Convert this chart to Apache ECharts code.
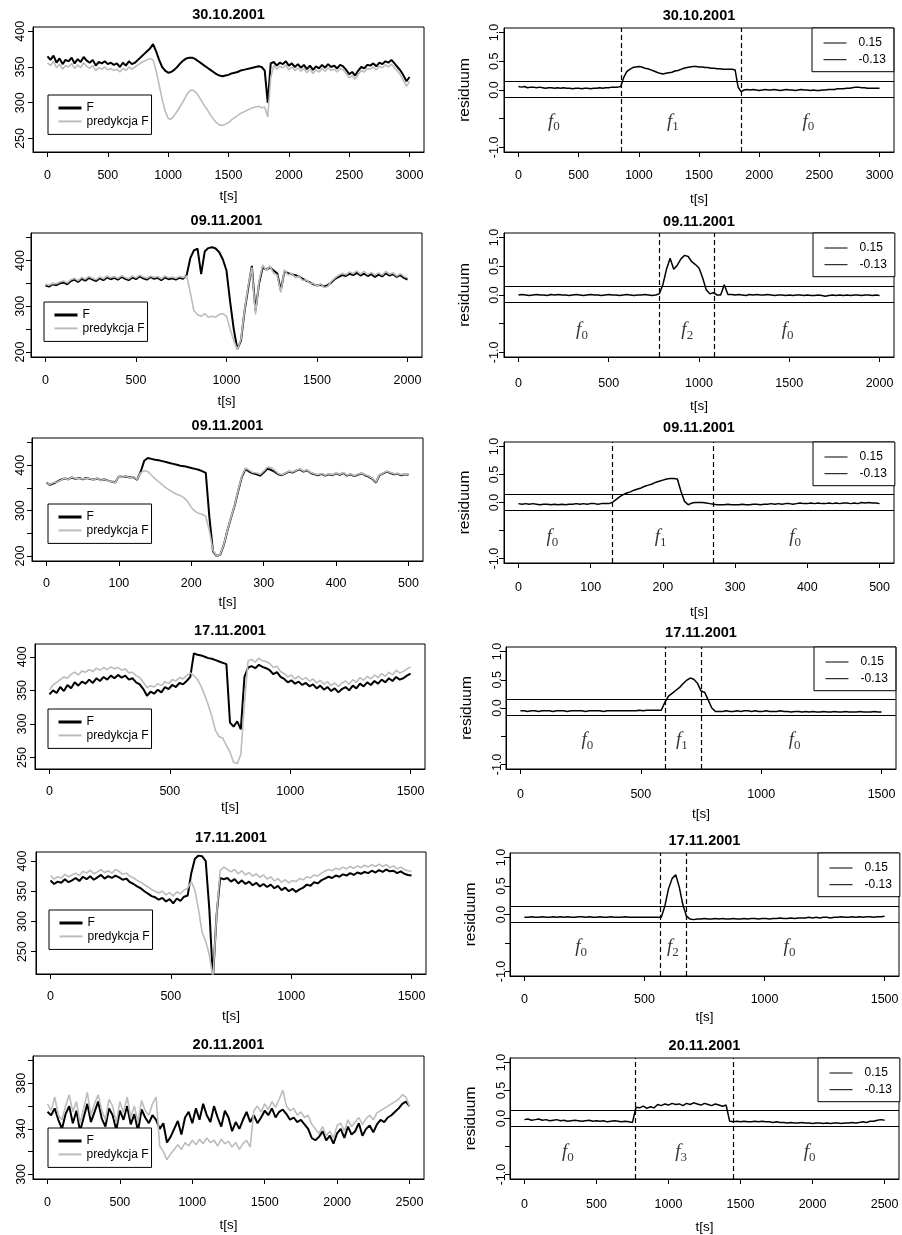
<!DOCTYPE html>
<html>
<head>
<meta charset="utf-8">
<script src="https://cdn.jsdelivr.net/npm/echarts@6/dist/echarts.min.js"></script>
<style>html,body{margin:0;padding:0;background:#fff}#c{width:902px;height:1235px}</style>
</head>
<body>
<div id="c"></div>
<script>
// ---------------- DATA ----------------
const titles = ['30.10.2001','09.11.2001','09.11.2001','17.11.2001','17.11.2001','20.11.2001'];
// sampling step (s) of the series of each row
const steps = [25, 20, 5, 15, 15, 25];

const F1 = [365,360,366,356,362,354,360,358,363,355,
361,357,364,359,356,360,352,357,355,358,
354,356,353,355,350,356,352,358,354,356,
360,364,368,372,376,382,372,360,350,345,
342,343,346,350,355,359,362,363,363,361,
358,355,352,349,346,343,340,338,337,338,
339,341,342,343,345,346,347,348,349,350,
351,350,345,300,355,357,352,356,354,358,
352,355,350,354,349,353,347,352,346,351,
348,353,349,354,350,352,348,353,351,346,
340,343,338,345,350,348,353,352,355,351,
356,354,358,356,360,355,350,345,338,330,
336];
const P1 = [356,352,358,349,354,347,352,350,355,348,
353,349,356,351,348,352,345,349,347,350,
346,348,345,347,343,348,345,350,347,350,
353,356,358,360,362,360,345,325,305,288,
278,277,282,288,295,302,310,316,318,315,
310,303,296,290,283,277,272,269,268,270,
272,276,279,282,285,287,289,291,293,294,
295,293,294,280,335,352,347,351,349,353,
346,350,345,349,344,348,342,347,341,346,
343,348,344,349,345,347,343,348,346,341,
335,338,333,340,345,343,348,347,350,346,
351,349,353,350,354,349,344,339,331,323,
330];
const R1 = [0.06,0.05,0.06,0.04,0.05,0.05,0.04,0.05,0.04,0.03,
0.04,0.04,0.03,0.04,0.03,0.04,0.03,0.03,0.02,0.03,
0.03,0.02,0.03,0.03,0.02,0.03,0.03,0.04,0.03,0.04,
0.04,0.05,0.05,0.05,0.06,0.22,0.32,0.36,0.39,0.40,
0.41,0.40,0.38,0.37,0.35,0.33,0.31,0.29,0.28,0.29,
0.30,0.31,0.33,0.34,0.36,0.38,0.39,0.40,0.41,0.41,
0.40,0.40,0.39,0.39,0.38,0.38,0.37,0.37,0.36,0.36,
0.36,0.36,0.35,0.05,-0.03,0.00,0.01,0.00,0.01,0.00,
-0.01,0.00,0.01,0.00,0.00,0.01,0.00,-0.01,0.00,0.01,
0.00,0.00,-0.01,0.00,0.01,0.00,0.00,-0.01,0.00,-0.01,
-0.01,0.00,0.00,0.01,0.01,0.01,0.02,0.02,0.02,0.03,
0.03,0.04,0.05,0.05,0.04,0.04,0.03,0.03,0.03,0.03,
0.03];

const F2 = [345,343,348,346,350,352,348,355,358,353,
360,356,362,358,355,361,357,363,359,362,
358,364,360,357,363,359,365,361,358,364,
360,362,357,363,359,361,358,362,360,368,
405,422,426,370,420,427,429,426,418,402,
378,310,250,206,225,290,340,388,290,350,
385,380,385,378,372,335,376,372,370,368,
365,360,356,352,348,345,347,343,346,352,
360,364,368,366,371,368,373,367,371,366,
370,364,369,365,372,367,370,364,368,362,
358];
const P2 = [348,346,350,349,353,355,351,358,361,356,
363,359,365,361,358,364,360,366,362,365,
361,367,363,360,366,362,368,364,361,366,
363,365,360,366,362,364,361,365,363,366,
330,290,282,278,284,276,278,276,282,284,
278,250,225,205,228,292,345,385,282,355,
390,378,388,372,368,330,380,368,372,362,
366,356,358,350,350,344,349,341,343,355,
362,368,372,369,375,371,377,370,376,369,
374,368,373,368,376,370,373,366,371,365,
362];
const R2 = [0.00,0.01,0.00,-0.01,0.00,0.01,0.00,0.00,-0.01,0.01,
0.00,0.01,0.00,0.00,-0.01,0.00,0.01,0.00,-0.01,0.00,
0.01,0.00,0.00,-0.01,0.00,0.01,0.00,0.00,-0.01,0.00,
0.01,0.00,-0.01,0.00,0.00,0.01,0.00,-0.01,0.00,0.02,
0.18,0.45,0.64,0.45,0.52,0.63,0.69,0.67,0.58,0.53,
0.47,0.30,0.09,0.02,0.04,0.00,0.00,0.18,0.01,0.01,
0.00,0.01,0.00,-0.01,0.01,0.00,0.01,0.00,0.00,0.01,
0.00,-0.01,0.00,0.00,-0.01,0.00,-0.01,0.00,0.00,-0.01,
0.00,-0.01,-0.01,0.00,-0.01,-0.02,-0.01,0.00,-0.01,0.00,
-0.01,0.00,-0.01,0.00,0.00,-0.01,0.00,0.00,-0.01,0.00,
-0.01];

const F3 = [361,357,360,364,368,371,369,373,370,372,
369,372,370,368,371,367,369,366,364,362,
376,374,375,373,374,368,385,410,416,414,
412,411,409,407,405,403,401,399,398,396,
394,392,390,387,383,285,210,200,203,225,
257,285,312,345,375,392,386,382,380,377,
384,392,390,386,380,378,382,386,384,388,
391,386,389,383,380,378,381,377,380,378,
382,379,383,377,380,376,379,382,378,375,
370,362,378,382,386,383,380,381,378,380,
379];
const P3 = [360,358,362,363,367,372,368,374,371,371,
370,371,371,367,372,366,370,365,365,361,
377,373,376,372,375,369,383,388,386,378,
370,364,357,350,345,340,336,333,328,320,
307,299,294,292,287,255,212,200,204,226,
258,286,313,347,377,394,389,384,383,380,
387,396,395,389,382,379,383,387,385,389,
392,387,390,384,381,379,382,378,381,379,
383,380,384,378,381,377,380,383,379,376,
371,363,379,383,387,384,381,382,379,381,
380];
const R3 = [-0.02,-0.03,-0.02,-0.03,-0.02,-0.03,-0.04,-0.03,-0.03,-0.04,
-0.03,-0.04,-0.03,-0.04,-0.03,-0.03,-0.02,-0.03,-0.02,-0.03,
-0.02,-0.02,-0.03,-0.02,-0.02,-0.02,0.00,0.05,0.10,0.14,
0.17,0.19,0.22,0.24,0.26,0.29,0.31,0.33,0.36,0.38,
0.40,0.42,0.43,0.43,0.42,0.20,0.02,-0.04,-0.01,0.00,
0.00,0.00,-0.01,-0.02,-0.03,-0.04,-0.04,-0.04,-0.03,-0.04,
-0.04,-0.04,-0.03,-0.04,-0.04,-0.03,-0.03,-0.04,-0.03,-0.03,
-0.02,-0.03,-0.02,-0.03,-0.02,-0.02,-0.03,-0.02,-0.01,-0.02,
-0.02,-0.01,-0.02,-0.01,-0.02,-0.02,-0.01,-0.02,-0.01,-0.02,
-0.01,-0.01,-0.02,-0.01,-0.02,0.00,-0.01,0.00,-0.01,-0.01,
-0.02];

const F4 = [344,350,346,355,349,358,353,362,357,363,
360,366,361,368,364,370,366,372,368,373,
369,372,366,368,362,359,352,342,348,345,
351,347,355,352,358,355,361,359,364,370,
405,403,402,400,398,397,395,393,391,389,
302,296,304,292,370,384,386,383,388,385,
383,380,374,377,370,367,362,365,360,363,
358,361,356,359,353,357,351,355,349,353,
347,352,355,350,357,353,360,356,362,358,
364,360,366,362,368,364,370,366,368,372,
375];
const P4 = [351,358,362,366,370,368,374,377,373,379,
377,381,378,383,380,384,381,385,382,384,
380,382,376,377,372,369,362,354,357,355,
360,357,363,360,366,364,369,367,372,376,
372,366,356,343,328,311,290,281,279,268,
258,243,241,255,330,394,396,392,398,394,
393,390,384,386,378,375,370,373,367,371,
366,369,364,367,361,365,359,363,357,361,
356,361,364,359,366,362,369,365,371,367,
373,369,375,371,377,373,380,376,378,382,
385];
const R4 = [-0.05,-0.05,-0.06,-0.05,-0.05,-0.06,-0.05,-0.05,-0.05,-0.06,
-0.05,-0.05,-0.05,-0.06,-0.05,-0.05,-0.05,-0.05,-0.06,-0.05,
-0.05,-0.05,-0.05,-0.06,-0.05,-0.05,-0.05,-0.05,-0.05,-0.05,
-0.05,-0.05,-0.05,-0.04,-0.05,-0.04,-0.04,-0.04,-0.04,-0.04,
0.10,0.21,0.26,0.31,0.36,0.43,0.49,0.53,0.51,0.44,
0.30,0.28,0.14,0.00,-0.06,-0.06,-0.06,-0.05,-0.06,-0.06,
-0.05,-0.06,-0.05,-0.05,-0.06,-0.05,-0.06,-0.06,-0.05,-0.06,
-0.06,-0.06,-0.05,-0.06,-0.06,-0.07,-0.06,-0.06,-0.07,-0.06,
-0.07,-0.06,-0.07,-0.07,-0.06,-0.07,-0.07,-0.06,-0.07,-0.07,
-0.06,-0.07,-0.07,-0.07,-0.06,-0.07,-0.07,-0.07,-0.06,-0.07,
-0.07];

const F5 = [368,362,366,364,370,365,368,372,367,374,
370,375,369,373,377,371,375,372,376,373,
369,371,365,362,358,355,350,346,342,340,
336,339,333,337,330,338,334,341,343,380,
404,409,408,400,320,205,310,372,370,372,
366,370,363,368,362,366,360,364,358,362,
357,361,355,359,352,356,350,354,349,353,
356,361,359,365,363,368,371,374,372,376,
374,378,376,380,377,381,379,382,380,384,
381,385,382,386,383,384,380,383,379,377,
376];
const P5 = [376,370,374,372,378,374,377,380,376,383,
380,385,379,382,386,381,384,380,386,383,
378,380,375,372,368,365,361,357,353,350,
347,350,344,348,342,349,346,352,355,366,
352,320,282,267,245,205,310,384,390,386,
382,386,379,384,377,381,375,379,373,377,
370,374,367,371,365,369,364,368,366,371,
369,374,372,377,375,380,383,386,384,388,
386,390,387,391,388,392,389,393,390,394,
391,395,391,394,389,392,387,390,386,384,
383];
const R5 = [-0.05,-0.05,-0.04,-0.05,-0.05,-0.04,-0.05,-0.05,-0.04,-0.05,
-0.04,-0.05,-0.04,-0.05,-0.05,-0.04,-0.04,-0.05,-0.04,-0.05,
-0.05,-0.04,-0.05,-0.05,-0.04,-0.05,-0.05,-0.05,-0.04,-0.05,
-0.05,-0.05,-0.05,-0.05,-0.05,-0.05,-0.05,-0.05,-0.05,0.15,
0.45,0.63,0.70,0.48,0.17,-0.03,-0.08,-0.09,-0.08,-0.08,
-0.07,-0.08,-0.08,-0.07,-0.08,-0.07,-0.08,-0.08,-0.07,-0.08,
-0.08,-0.07,-0.08,-0.07,-0.07,-0.08,-0.07,-0.07,-0.08,-0.07,
-0.07,-0.06,-0.07,-0.07,-0.06,-0.07,-0.06,-0.06,-0.06,-0.05,
-0.06,-0.05,-0.06,-0.05,-0.05,-0.06,-0.05,-0.05,-0.04,-0.05,
-0.05,-0.04,-0.05,-0.04,-0.05,-0.04,-0.04,-0.05,-0.04,-0.04,
-0.03];

const F6 = [355,352,358,348,340,353,360,345,356,338,
350,362,346,355,364,349,342,358,352,339,
356,348,360,344,353,338,357,350,345,352,
348,340,345,328,333,340,347,335,350,355,
345,358,348,362,352,346,360,350,342,356,
350,338,346,340,348,355,346,352,345,350,
356,352,358,350,355,357,353,348,350,346,
348,344,340,332,330,333,338,330,334,327,
336,340,332,342,335,338,345,334,340,343,
337,344,348,346,350,352,355,358,362,364,
360];
const P6 = [362,356,368,352,348,360,370,355,364,345,
358,372,352,362,370,356,348,366,360,345,
364,354,368,350,360,346,365,356,352,362,
368,325,320,313,318,322,326,322,328,325,
330,326,331,327,332,328,330,325,331,327,
329,324,328,322,327,330,324,356,360,355,
362,357,364,359,366,374,360,356,358,352,
355,350,352,344,340,336,342,334,338,332,
343,345,338,348,342,346,350,344,349,352,
348,354,356,358,360,362,364,366,370,368,
360];
const R6 = [-0.02,-0.01,-0.03,-0.02,-0.01,-0.03,-0.02,-0.04,-0.03,-0.02,
-0.04,-0.03,-0.05,-0.04,-0.03,-0.04,-0.05,-0.04,-0.03,-0.05,
-0.04,-0.05,-0.04,-0.06,-0.05,-0.04,-0.05,-0.06,-0.05,-0.06,
-0.07,0.20,0.19,0.22,0.18,0.21,0.19,0.25,0.23,0.26,
0.24,0.27,0.25,0.26,0.23,0.27,0.25,0.28,0.26,0.24,
0.27,0.25,0.23,0.26,0.24,0.22,0.24,-0.05,-0.06,-0.05,
-0.06,-0.05,-0.06,-0.06,-0.05,-0.06,-0.05,-0.06,-0.06,-0.07,
-0.06,-0.07,-0.07,-0.08,-0.07,-0.08,-0.08,-0.07,-0.08,-0.08,
-0.09,-0.08,-0.08,-0.09,-0.08,-0.09,-0.08,-0.08,-0.09,-0.08,
-0.08,-0.07,-0.08,-0.07,-0.06,-0.07,-0.05,-0.05,-0.03,-0.02,
-0.03];

// axis ranges and ticks
const xRanges = [[-120,3120],[-80,2080],[-20,520],[-60,1560],[-60,1560],[-100,2600]];
const xTicks = [[0,500,1000,1500,2000,2500,3000],[0,500,1000,1500,2000],[0,100,200,300,400,500],
                [0,500,1000,1500],[0,500,1000,1500],[0,500,1000,1500,2000,2500]];
const yRangesF = [[231,406],[189,460],[189,460],[233,419],[213,415],[296,404]];
const yTicksF = [[250,300,350,400],[200,250,300,350,400,450],[200,250,300,350,400,450],
                 [250,300,350,400],[250,300,350,400],[300,320,340,360,380,400]];
const yLabelsF = [[250,300,350,400],[200,300,400],[200,300,400],
                  [250,300,350,400],[250,300,350,400],[300,340,380]];
const resRange = [-1.08,1.08];
const resTicks = [-1,-0.5,0,0.5,1];
const resLabels = [-1,0,0.5,1];
const thresholds = [0.15,-0.13];
const changePoints = [[850,1855],[780,1085],[130,270],[600,750],[565,675],[770,1450]];
// regime labels f_k : [t, residuum, index]
const stateLabels = [
  [[294,-0.55,'0'],[1283,-0.55,'1'],[2408,-0.55,'0']],
  [[352,-0.61,'0'],[935,-0.61,'2'],[1491,-0.61,'0']],
  [[47,-0.61,'0'],[197,-0.61,'1'],[383,-0.61,'0']],
  [[278,-0.56,'0'],[671,-0.56,'1'],[1139,-0.56,'0']],
  [[236,-0.57,'0'],[618,-0.57,'2'],[1104,-0.57,'0']],
  [[301,-0.60,'0'],[1088,-0.60,'3'],[1979,-0.60,'0']]
];
const Fs = [F1,F2,F3,F4,F5,F6];
const Ps = [P1,P2,P3,P4,P5,P6];
const Rs = [R1,R2,R3,R4,R5,R6];

// ---------------- LAYOUT ----------------
// g: [left, top, width, height]; t: title centre y; ylm / xlm: label margins; ng: x-name gap; lg: legend pos
const layout = [
 {L:{g:[33,27,391,125],t:15,ylm:6,xlm:17,ng:37.5,lg:[48,95]},
  R:{g:[504,28,390,124],t:16.7,ylm:2.5,xlm:17,ng:40.5,lg:[812,28]}},
 {L:{g:[31,233,391,124],t:221.7,ylm:4,xlm:17.5,ng:37,lg:[44,302]},
  R:{g:[504,233,390,124],t:222.3,ylm:3,xlm:20,ng:42,lg:[813,233]}},
 {L:{g:[32,438,391,123],t:426.7,ylm:5,xlm:16,ng:34.5,lg:[48,504]},
  R:{g:[504,442,390,121],t:428.3,ylm:3,xlm:18,ng:42,lg:[813,442]}},
 {L:{g:[35,644,390,125],t:631.7,ylm:6,xlm:16,ng:31,lg:[48,709]},
  R:{g:[506,647,390,122],t:633.3,ylm:1.5,xlm:19,ng:38,lg:[814,647]}},
 {L:{g:[36,852,390,122],t:838.3,ylm:7,xlm:16,ng:35,lg:[49,910]},
  R:{g:[510,853,389,123],t:841.7,ylm:2,xlm:17.5,ng:34,lg:[818,853]}},
 {L:{g:[33,1056,391,123],t:1045,ylm:4.5,xlm:17.5,ng:39.5,lg:[48,1128]},
  R:{g:[510,1058,389,123],t:1046.7,ylm:2,xlm:19.5,ng:41,lg:[818,1058]}}
];

const FONT = '"Liberation Sans", Arial, Helvetica, sans-serif';
const SERIF = '"Liberation Serif", "DejaVu Serif", serif';
const GRAY = '#bcbcbc';
const NOSYM = {color:'rgba(0,0,0,0)', borderColor:'rgba(0,0,0,0)', borderWidth:0, opacity:0};

function toPairs(step, vals){ return vals.map((v,i)=>[i*step, v]); }

const option = {animation:false, backgroundColor:'#fff', title:[], legend:[], grid:[], xAxis:[], yAxis:[], series:[]};

function addGridAxes(L, r, yRange, yTicks, yLabels, isRes){
  const idx = option.grid.length;
  option.grid.push({left:L.g[0], top:L.g[1], width:L.g[2], height:L.g[3], show:true,
    borderColor:'#000', borderWidth:1, backgroundColor:'rgba(0,0,0,0)'});
  option.title.push({text:titles[r], left:L.g[0]+L.g[2]/2, top:L.t-8, textAlign:'center', padding:0,
    textStyle:{fontFamily:FONT, fontSize:14.5, fontWeight:'bold', color:'#000'}});
  option.xAxis.push({type:'value', gridIndex:idx, min:xRanges[r][0], max:xRanges[r][1],
    axisLine:{show:true, onZero:false, lineStyle:{color:'#000', width:1}},
    axisTick:{show:true, length:5, lineStyle:{color:'#000'}, customValues:xTicks[r]},
    axisLabel:{customValues:xTicks[r], margin:L.xlm, fontSize:12.5, fontFamily:FONT, color:'#000',
      formatter:v => String(v)},
    splitLine:{show:false},
    name:'t[s]', nameLocation:'middle', nameGap:L.ng,
    nameTextStyle:{fontSize:13.5, fontFamily:FONT, color:'#000'}});
  const ya = {type:'value', gridIndex:idx, min:yRange[0], max:yRange[1],
    axisLine:{show:true, onZero:false, lineStyle:{color:'#000', width:1}},
    axisTick:{show:true, length:5, lineStyle:{color:'#000'}, customValues:yTicks},
    axisLabel:{customValues:yLabels, rotate:90, margin:L.ylm, fontSize:12.5, fontFamily:FONT, color:'#000',
      formatter:v => String(v)},
    splitLine:{show:false}};
  if (isRes){
    ya.axisLabel.formatter = v => Number(v).toFixed(1);
    ya.name = 'residuum'; ya.nameLocation = 'middle'; ya.nameGap = 31;
    ya.nameTextStyle = {fontSize:15.5, fontFamily:FONT, color:'#000'};
  }
  option.yAxis.push(ya);
  return idx;
}

for (let r = 0; r < 6; r++){
  const lay = layout[r];
  // ---- left panel: F and its prediction
  const li = addGridAxes(lay.L, r, yRangesF[r], yTicksF[r], yLabelsF[r], false);
  option.series.push({type:'line', name:'F', xAxisIndex:li, yAxisIndex:li, data:toPairs(steps[r], Fs[r]),
    symbol:'none', color:'#000', lineStyle:{color:'#000', width:2}, z:2});
  option.series.push({type:'line', name:'predykcja F', xAxisIndex:li, yAxisIndex:li, data:toPairs(steps[r], Ps[r]),
    symbol:'none', color:GRAY, lineStyle:{color:GRAY, width:1.6}, z:3});
  option.legend.push({left:lay.L.lg[0], top:lay.L.lg[1], orient:'vertical', padding:[7,3,7,9],
    itemWidth:23, itemHeight:12, itemGap:1.4, backgroundColor:'#fff', borderColor:'#000', borderWidth:1,
    borderRadius:0, selectedMode:false, textStyle:{fontSize:12, fontFamily:FONT, color:'#000'},
    itemStyle:NOSYM,
    data:[{name:'F', lineStyle:{width:3}, itemStyle:NOSYM}, {name:'predykcja F', lineStyle:{width:2}, itemStyle:NOSYM}]});

  // ---- right panel: residuum
  const ri = addGridAxes(lay.R, r, resRange, resTicks, resLabels, true);
  const ml = thresholds.map(v => ({yAxis:v, lineStyle:{type:'solid', color:'#000', width:1}}))
    .concat(changePoints[r].map(v => ({xAxis:v, lineStyle:{type:[5,3], color:'#000', width:1.2}})));
  option.series.push({type:'line', name:'residuum', xAxisIndex:ri, yAxisIndex:ri, data:toPairs(steps[r], Rs[r]),
    symbol:'none', color:'#000', lineStyle:{color:'#000', width:1.5}, z:3,
    markLine:{silent:true, symbol:['none','none'], animation:false, label:{show:false}, data:ml}});
  thresholds.forEach(v => option.series.push({type:'line', name:String(v), xAxisIndex:ri, yAxisIndex:ri,
    data:[], symbol:'none', color:'#000', lineStyle:{color:'#000', width:1}}));
  option.series.push({type:'scatter', name:'states', xAxisIndex:ri, yAxisIndex:ri, symbolSize:0, silent:true,
    data:stateLabels[r].map(d => ({value:[d[0], d[1]], sub:d[2]})),
    label:{show:true, position:'inside', formatter:p => '{i|f}{s|' + p.data.sub + '}',
      rich:{i:{fontFamily:SERIF, fontStyle:'italic', fontSize:19, lineHeight:24, color:'#000'},
            s:{fontFamily:SERIF, fontSize:13, lineHeight:19, verticalAlign:'bottom', color:'#000'}}}});
  option.legend.push({left:lay.R.lg[0], top:lay.R.lg[1], orient:'vertical', padding:[9,8,6,11],
    itemWidth:23, itemHeight:12, itemGap:4.7, backgroundColor:'#fff', borderColor:'#000', borderWidth:1,
    borderRadius:0, selectedMode:false, itemStyle:NOSYM,
    textStyle:{fontSize:12, fontFamily:FONT, color:'#000', padding:[0,0,0,7]},
    data:thresholds.map(v => ({name:String(v), lineStyle:{width:1}, itemStyle:NOSYM}))});
}

const chart = echarts.init(document.getElementById('c'), null, {renderer:'canvas', width:902, height:1235});
chart.setOption(option);
</script>
</body>
</html>
